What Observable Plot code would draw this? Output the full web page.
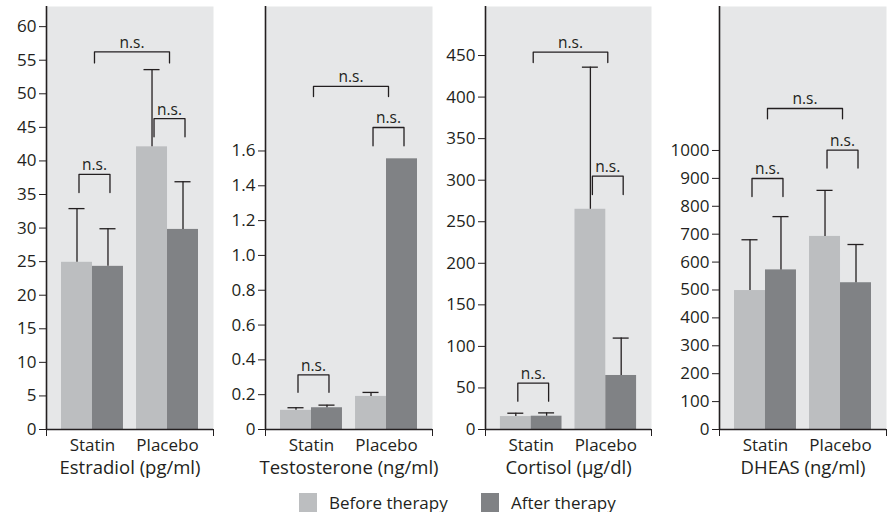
<!DOCTYPE html>
<html><head><meta charset="utf-8">
<script src="https://cdn.jsdelivr.net/npm/d3@7"></script>
<script src="https://cdn.jsdelivr.net/npm/@observablehq/plot@0.6"></script>
<style>
body{margin:0;background:#fff;font-family:"Open Sans",sans-serif;color:#231f20}
#row{display:flex;width:888px;height:486px}
#legend{display:flex;align-items:center;padding-left:299px;margin-top:7px;font-size:17px;height:19px}
.item{display:flex;align-items:center}
.sw{width:18px;height:19px;margin-right:12px}
</style></head><body>
<div id="row"></div>
<div id="legend"></div>
<script>
// ---- data ----
const groups = ["Statin", "Placebo"];
const therapies = ["Before therapy", "After therapy"];
const hormones = ["Estradiol (pg/ml)", "Testosterone (ng/ml)", "Cortisol (µg/dl)", "DHEAS (ng/ml)"];
// order: Statin before, Statin after, Placebo before, Placebo after
const estradiolMean = [24.9, 24.3, 42.1, 29.8];
const estradiolErr  = [32.9, 29.9, 53.6, 36.9];
const testosteroneMean = [0.11, 0.125, 0.19, 1.555];
const testosteroneErr  = [0.125, 0.14, 0.213, null];
const cortisolMean = [15.6, 16, 265, 65];
const cortisolErr  = [19.6, 20, 436, 110];
const dheasMean = [498, 572, 692, 526];
const dheasErr  = [680, 763, 857, 663];
// y-axis ticks
const estradiolTicks = [0, 5, 10, 15, 20, 25, 30, 35, 40, 45, 50, 55, 60];
const testosteroneTicks = [0, 0.2, 0.4, 0.6, 0.8, 1.0, 1.2, 1.4, 1.6];
const cortisolTicks = [0, 50, 100, 150, 200, 250, 300, 350, 400, 450];
const dheasTicks = [0, 100, 200, 300, 400, 500, 600, 700, 800, 900, 1000];
const yMaxes = [63, 2.43, 509, 1516];
// significance brackets: endpoints, top level, leg level
const estradiolBrackets = [
  {from: "Statin|0", to: "Statin|1", top: 38, leg: 35.3, text: "n.s."},
  {from: "Placebo|0", to: "Placebo|1", top: 46.3, leg: 43.6, text: "n.s."},
  {from: "Statin", to: "Placebo", top: 56.25, leg: 54.6, text: "n.s."}
];
const testosteroneBrackets = [
  {from: "Statin|0", to: "Statin|1", top: 0.314, leg: 0.214, text: "n.s."},
  {from: "Placebo|0", to: "Placebo|1", top: 1.735, leg: 1.63, text: "n.s."},
  {from: "Statin", to: "Placebo", top: 1.971, leg: 1.913, text: "n.s."}
];
const cortisolBrackets = [
  {from: "Statin|0", to: "Statin|1", top: 55.7, leg: 34.1, text: "n.s."},
  {from: "Placebo|0", to: "Placebo|1", top: 304.8, leg: 282.8, text: "n.s."},
  {from: "Statin", to: "Placebo", top: 454, leg: 441.6, text: "n.s."}
];
const dheasBrackets = [
  {from: "Statin|0", to: "Statin|1", top: 899.6, leg: 835, text: "n.s."},
  {from: "Placebo|0", to: "Placebo|1", top: 1001, leg: 937, text: "n.s."},
  {from: "Statin", to: "Placebo", top: 1150.5, leg: 1113.6, text: "n.s."}
];

// ---- style ----
const ink = "#231f20", bg = "#e6e7e8", light = "#bcbec0", dark = "#808285";
const xDomain = [-0.613, 1.613];
const bw = 0.413;       // bar width in x units
const cap = 0.107;      // half cap width
const panels = [
  {label: hormones[0], mean: estradiolMean, err: estradiolErr, ticks: estradiolTicks, yMax: yMaxes[0], brackets: estradiolBrackets, ml: 46, mr: 9, fmt: d => String(d)},
  {label: hormones[1], mean: testosteroneMean, err: testosteroneErr, ticks: testosteroneTicks, yMax: yMaxes[1], brackets: testosteroneBrackets, ml: 43, mr: 12, fmt: d => d === 0 ? "0" : d.toFixed(1)},
  {label: hormones[2], mean: cortisolMean, err: cortisolErr, ticks: cortisolTicks, yMax: yMaxes[2], brackets: cortisolBrackets, ml: 41, mr: 15, fmt: d => String(d)},
  {label: hormones[3], mean: dheasMean, err: dheasErr, ticks: dheasTicks, yMax: yMaxes[3], brackets: dheasBrackets, ml: 53, mr: 2, fmt: d => String(d)}
];

function xpos(key) {
  const [g, t] = key.split("|");
  const gi = groups.indexOf(g);
  if (t === undefined) return gi;
  return gi - bw / 2 + (+t) * bw;
}

const row = document.getElementById("row");
panels.forEach(p => {
  const bars = [];
  groups.forEach((g, gi) => therapies.forEach((t, ti) => {
    const k = gi * 2 + ti;
    bars.push({g, t, x1: gi - bw + ti * bw, x2: gi + ti * bw, xc: gi - bw / 2 + ti * bw, mean: p.mean[k], err: p.err[k]});
  }));
  const withErr = bars.filter(d => d.err != null);
  const pts = [];
  p.brackets.forEach((b, i) => {
    const a = xpos(b.from), c = xpos(b.to);
    pts.push({id: i, x: a, y: b.leg}, {id: i, x: a, y: b.top}, {id: i, x: c, y: b.top}, {id: i, x: c, y: b.leg});
  });
  const chart = Plot.plot({
    width: 222,
    height: 486,
    marginLeft: p.ml,
    marginRight: p.mr,
    marginTop: 6,
    marginBottom: 57,
    style: {fontFamily: "'Open Sans', sans-serif", fontSize: "17px", color: ink, background: "transparent", overflow: "visible"},
    x: {domain: xDomain},
    y: {domain: [0, p.yMax]},
    color: {domain: therapies, range: [light, dark]},
    marks: [
      Plot.frame({fill: bg, stroke: "none"}),
      Plot.rect(bars, {x1: "x1", x2: "x2", y1: d => 0, y2: "mean", fill: "t"}),
      Plot.ruleX(withErr, {x: "xc", y1: "mean", y2: "err", stroke: ink, strokeWidth: 1.3}),
      Plot.ruleY(withErr, {y: "err", x1: d => d.xc - cap, x2: d => d.xc + cap, stroke: ink, strokeWidth: 1.3}),
      Plot.line(pts, {x: "x", y: "y", z: "id", stroke: ink, strokeWidth: 1.3, dx: 2}),
      Plot.text(p.brackets, {x: d => (xpos(d.from) + xpos(d.to)) / 2, y: "top", text: "text", dx: 2, dy: -4, lineAnchor: "bottom", fill: ink, fontSize: 15.5}),
      Plot.ruleX([xDomain[0]], {stroke: ink, strokeWidth: 1.6}),
      Plot.ruleY([0], {stroke: ink, strokeWidth: 1.6}),
      Plot.axisX(xDomain, {tickSize: 7, tickFormat: () => "", label: null, stroke: ink}),
      Plot.axisX([0, 1], {tickSize: 0, tickPadding: 9, tickFormat: i => groups[i], label: null, fill: ink}),
      Plot.axisY(p.ticks, {tickSize: 7, tickPadding: 3, tickFormat: p.fmt, label: null, stroke: ink, fill: ink}),
      Plot.text([p.label], {frameAnchor: "bottom", lineAnchor: "middle", dy: 39, text: d => d, fill: ink, fontSize: 18.5})
    ]
  });
  row.appendChild(chart);
});

const legend = document.getElementById("legend");
therapies.forEach((t, i) => {
  const it = document.createElement("div");
  it.className = "item";
  if (i === 0) it.style.width = "182px";
  const sw = document.createElement("div");
  sw.className = "sw";
  sw.style.background = i === 0 ? light : dark;
  const tx = document.createElement("span");
  tx.textContent = t;
  it.appendChild(sw); it.appendChild(tx);
  legend.appendChild(it);
});
</script>
</body></html>
